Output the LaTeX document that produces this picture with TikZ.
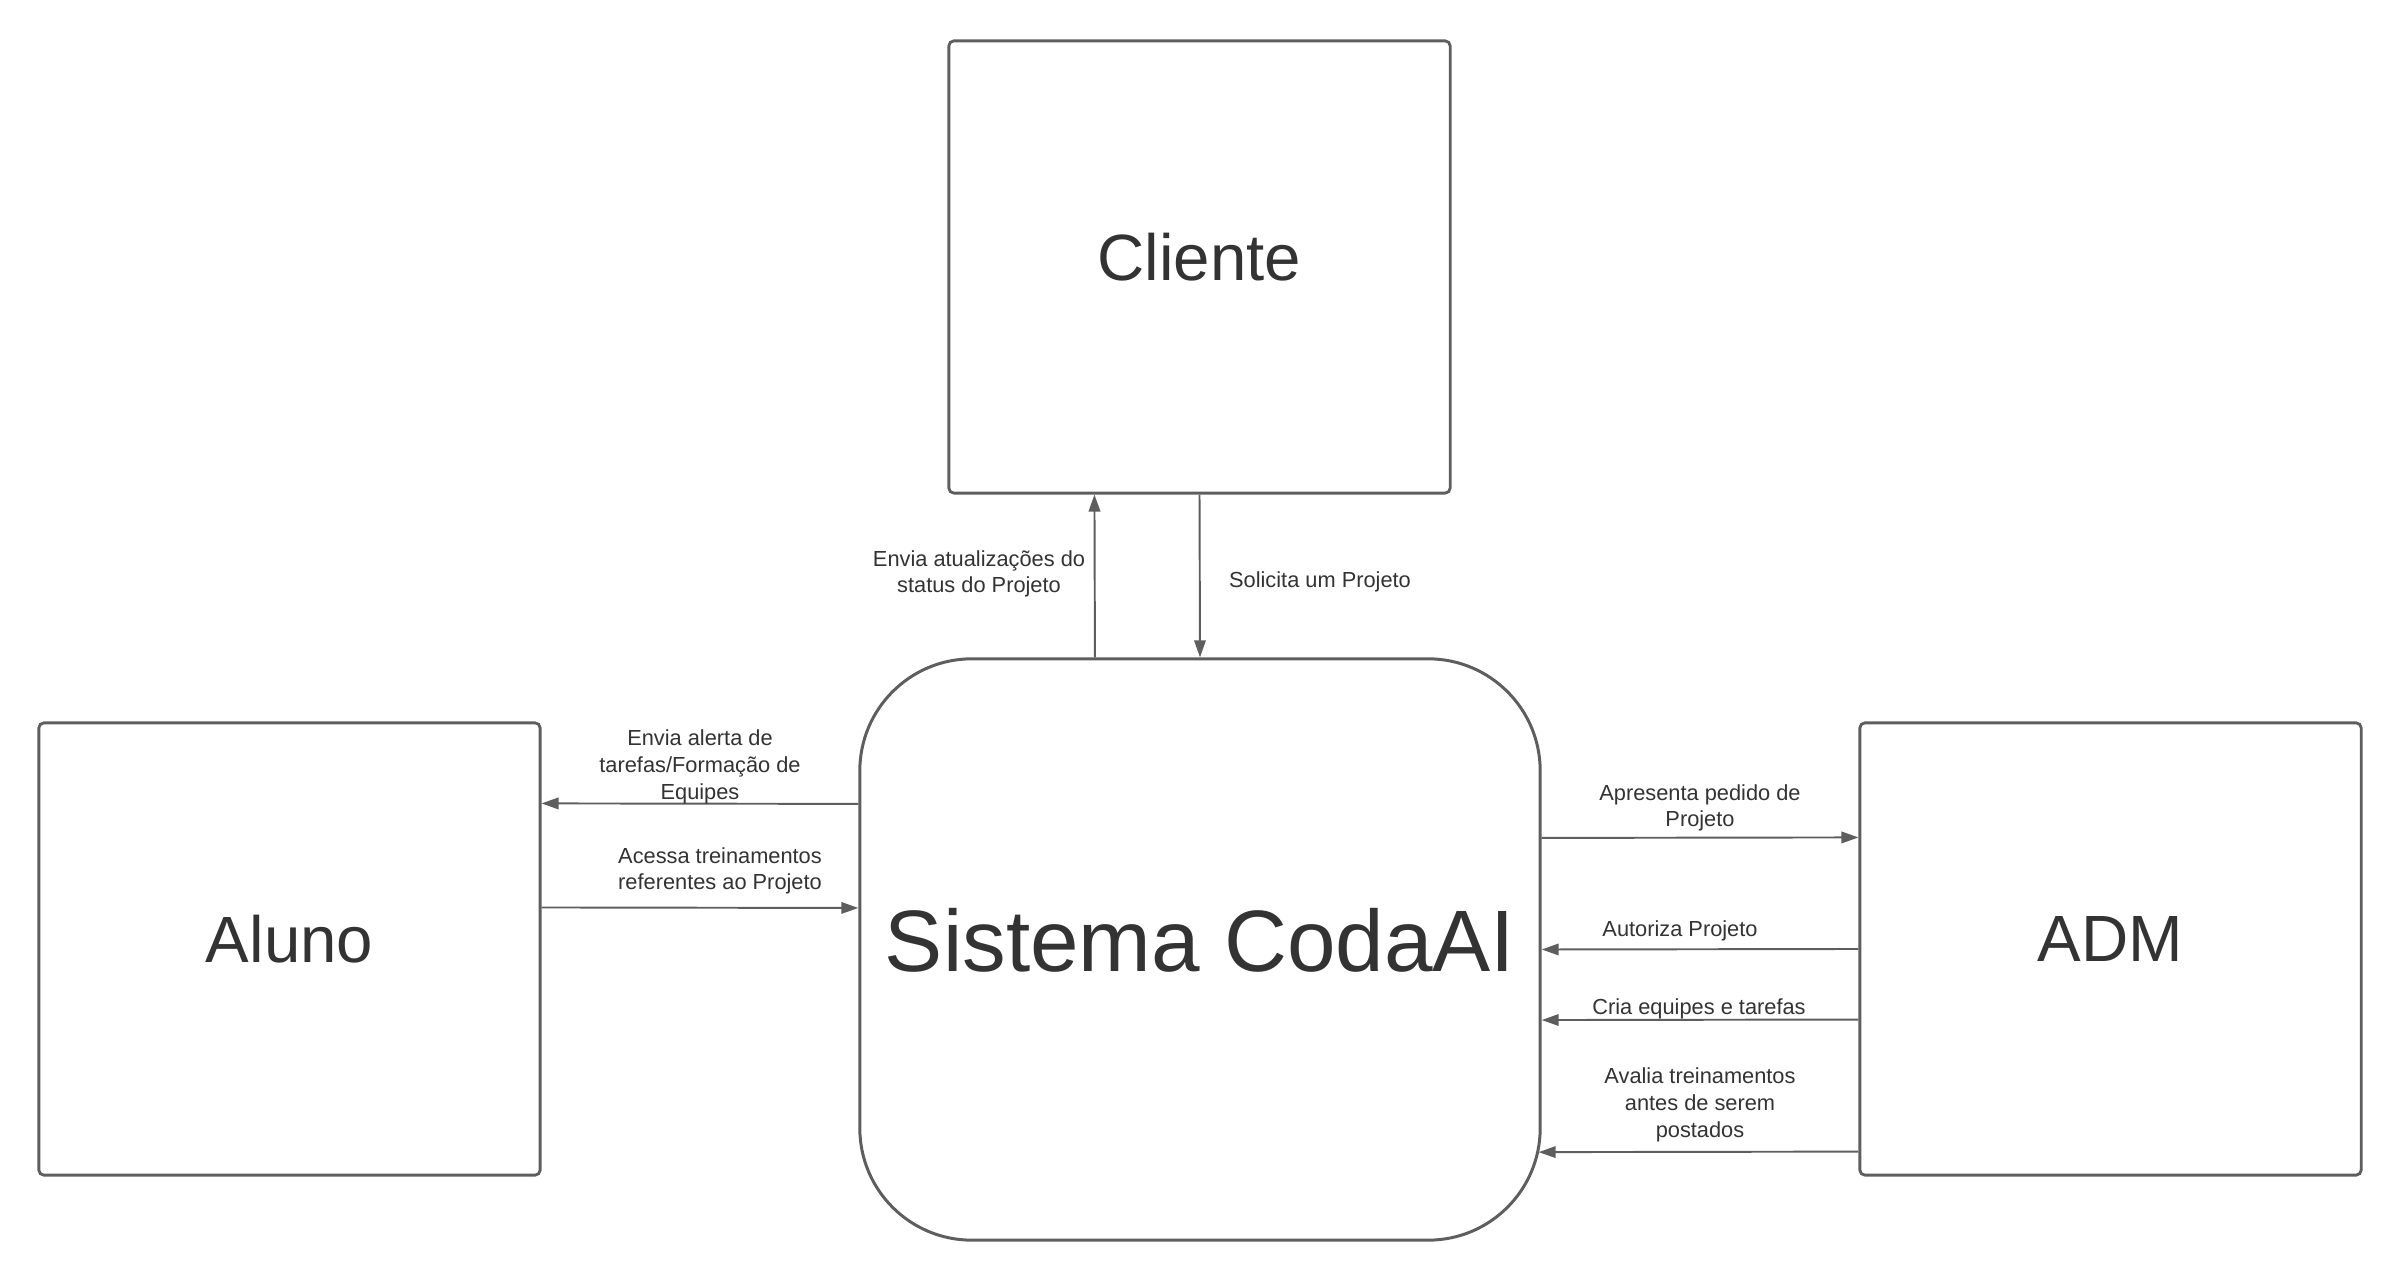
\documentclass[tikz,border=0pt]{standalone}
\usepackage{fontspec}
\setmainfont{Liberation Sans}
\usetikzlibrary{arrows.meta}

\definecolor{linegray}{HTML}{5E5E5E}
\definecolor{textgray}{HTML}{333333}

\tikzset{
  entbox/.style={draw=linegray, line width=0.8pt, rounded corners=0.05cm,
    minimum width=5.01cm, minimum height=4.52cm, inner sep=0pt,
    text=textgray, text depth=0.2cm, font=\fontsize{18.6pt}{22pt}\selectfont},
  sysbox/.style={draw=linegray, line width=0.85pt, rounded corners=1.12cm,
    minimum width=6.8cm, minimum height=5.81cm, inner sep=0pt,
    text=textgray, text depth=0.2cm, font=\fontsize{24.8pt}{29pt}\selectfont},
  note/.style={text=textgray, align=center, inner sep=0pt,
    font=\fontsize{6.2pt}{7.6pt}\selectfont},
  flow/.style={draw=linegray, line width=0.55pt,
    -{Triangle[length=0.17cm,width=0.115cm]}}
}

\begin{document}
\begin{tikzpicture}[x=0.01cm, y=-0.01cm]
  \fill[white] (0,0) rectangle (2400,1280);
  \useasboundingbox (0,0) rectangle (2400,1280);

  % entidades
  \node[entbox] (cli) at (1199.5,267) {Cliente};
  \node[entbox] (alu) at (289.5,949) {Aluno};
  \node[entbox] (adm) at (2110.5,949) {ADM};
  \node[sysbox] (sis) at (1200,949.5) {Sistema CodaAI};

  % fluxos com o cliente
  \draw[flow] ([xshift=-1.05cm]sis.north) -- ([xshift=-1.05cm]cli.south);
  \draw[flow] (cli.south) -- (sis.north);
    \node[note] (n-atu) at (979,574) {Envia atualizações do\\status do Projeto};
    \node[note] (n-sol) at (1320,582) {Solicita um Projeto};

  % fluxos com o aluno
  \draw[flow] ([yshift=1.455cm]sis.west) -- ([yshift=1.455cm]alu.east);
  \draw[flow] ([yshift=0.415cm]alu.east) -- ([yshift=0.415cm]sis.west);
    \node[note] (n-ale) at (700,767) {Envia alerta de\\tarefas/Formação de\\Equipes};
    \node[note] (n-ace) at (720,871) {Acessa treinamentos\\referentes ao Projeto};

  % fluxos com o ADM
  \draw[flow] ([yshift=1.115cm]sis.east) -- ([yshift=1.115cm]adm.west);
  \draw[flow] (adm.west) -- (sis.east);
  \draw[flow] ([yshift=-0.705cm]adm.west) -- ([yshift=-0.705cm]sis.east);
  \draw[flow] ([yshift=-2.025cm]adm.west) -- ([xshift=-0.03cm,yshift=-2.025cm]sis.east);
    \node[note] (n-apr) at (1700,808) {Apresenta pedido de\\Projeto};
    \node[note] (n-aut) at (1680,931) {Autoriza Projeto};
    \node[note] (n-cri) at (1699,1009) {Cria equipes e tarefas};
    \node[note] (n-ava) at (1700,1105) {Avalia treinamentos\\antes de serem\\postados};
\end{tikzpicture}
\end{document}
